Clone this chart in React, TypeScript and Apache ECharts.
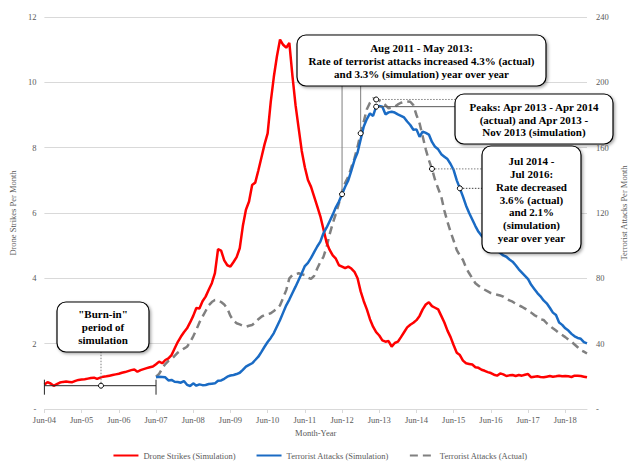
import React, { useEffect, useRef } from "react";
import * as echarts from "echarts";

const SERIF = '"Liberation Serif", "Times New Roman", serif';

const MONTH_NAMES = ["Jan", "Feb", "Mar", "Apr", "May", "Jun", "Jul", "Aug", "Sep", "Oct", "Nov", "Dec"];
const START_YEAR = 2004;
const START_MONTH = 5; // June
const N_MONTHS = 176; // Jun-04 .. Jan-19
const SIM_START = 36; // Jun-07

const categories: string[] = Array.from({ length: N_MONTHS }, (_, i) => {
  const m = (START_MONTH + i) % 12;
  const y = START_YEAR + Math.floor((START_MONTH + i) / 12);
  return `${MONTH_NAMES[m]}-${String(y % 100).padStart(2, "0")}`;
});

const leftTicks = [0, 2, 4, 6, 8, 10, 12];
const rightTicks = [0, 40, 80, 120, 160, 200, 240];

// Drone strikes (simulation), monthly from Jun-04
const droneStrikesSim = [
  0.75, 0.82, 0.78, 0.71, 0.76, 0.81, 0.83, 0.84, 0.83, 0.82, 0.86, 0.89,
  0.90, 0.91, 0.93, 0.95, 0.96, 0.92, 0.96, 0.99, 1.00, 1.02, 1.04, 1.06,
  1.08, 1.11, 1.13, 1.16, 1.19, 1.21, 1.14, 1.19, 1.22, 1.25, 1.28, 1.30,
  1.37, 1.45, 1.40, 1.50, 1.55, 1.65, 1.85, 2.05, 2.21, 2.35, 2.47, 2.65,
  2.85, 3.09, 3.08, 3.30, 3.44, 3.65, 3.85, 4.16, 4.89, 4.85, 4.55, 4.40,
  4.36, 4.50, 4.65, 4.92, 5.60, 6.10, 6.35, 6.86, 6.93, 7.30, 7.70, 8.10,
  8.44, 9.40, 10.17, 10.80, 11.31, 11.15, 11.06, 11.21, 10.20, 9.30, 8.60, 7.90,
  7.40, 7.01, 6.80, 6.50, 6.20, 5.90, 5.50, 5.10, 4.87, 4.70, 4.60, 4.40,
  4.36, 4.31, 4.36, 4.30, 4.20, 4.00, 3.60, 3.30, 3.05, 2.75, 2.52, 2.35,
  2.25, 2.10, 2.06, 2.08, 1.91, 2.02, 2.06, 2.20, 2.35, 2.50, 2.58, 2.64,
  2.72, 2.85, 3.05, 3.20, 3.27, 3.15, 3.10, 3.05, 2.85, 2.65, 2.40, 2.20,
  1.95, 1.72, 1.65, 1.48, 1.40, 1.38, 1.36, 1.28, 1.26, 1.20, 1.17, 1.13,
  1.10, 1.05, 1.02, 1.09, 1.06, 1.01, 1.03, 1.04, 1.01, 1.04, 1.02, 1.05,
  1.07, 0.97, 0.99, 1.00, 0.98, 0.97, 0.99, 1.01, 0.99, 1.00, 1.02, 1.00,
  1.01, 1.00, 0.98, 1.02, 1.02, 1.01, 0.99, 0.97,
];

// Terrorist attacks (simulation), monthly from Jun-07
const attacksSim = [
  19.5, 19.8, 19.6, 19.4, 17.5, 17.8, 16.7, 16.5, 16.1, 17.1, 14.8, 14.1,
  15.7, 14.3, 15.1, 14.6, 14.7, 15.3, 15.5, 15.7, 17.3, 17.5, 18.5, 19.8,
  20.5, 20.8, 21.4, 22.2, 24.0, 25.9, 27.0, 28.0, 30.0, 32.0, 35.0, 38.1,
  41.0, 43.5, 46.5, 50.5, 54.5, 59.0, 63.5, 67.0, 71.0, 74.9, 79.0, 83.1,
  87.5, 89.5, 92.5, 96.0, 99.5, 102.5, 107.6, 111.0, 115.0, 119.0, 123.5, 127.0,
  131.5, 136.1, 140.0, 146.0, 152.4, 157.0, 165.0, 173.0, 177.5, 181.0, 179.4, 185.1,
  185.5, 185.0, 180.4, 181.6, 182.0, 181.5, 180.4, 179.5, 178.5, 176.0, 173.9, 171.0,
  171.2, 166.7, 169.8, 169.0, 168.0, 163.5, 160.5, 159.0, 156.0, 154.5, 153.0, 150.0,
  146.3, 140.0, 135.1, 130.0, 124.5, 120.0, 116.0, 112.0, 108.5, 106.0, 104.0, 102.0,
  100.0, 98.0, 97.0, 95.5, 94.0, 93.2, 91.5, 90.2, 88.0, 85.5, 83.5, 81.5,
  79.5, 76.0, 73.5, 71.0, 69.0, 66.5, 64.7, 62.0, 59.0, 57.5, 53.0, 51.5,
  49.4, 48.0, 46.0, 44.5, 43.5, 43.0, 41.0, 40.2,
];

// Terrorist attacks (actual), monthly from Jun-07
const attacksActual = [
  19.8, 21.5, 24.9, 27.5, 29.5, 30.5, 32.5, 34.5, 35.8, 37.0, 38.1, 41.0,
  44.5, 48.5, 53.0, 56.5, 60.0, 63.5, 65.5, 66.7, 66.5, 65.5, 64.0, 61.5,
  57.0, 54.0, 52.5, 51.8, 51.0, 50.4, 51.0, 51.4, 53.0, 55.0, 56.5, 57.5,
  58.0, 58.6, 60.0, 61.5, 63.5, 68.0, 72.8, 80.0, 82.0, 82.5, 83.1, 82.5,
  82.0, 80.5, 79.6, 81.5, 86.0, 90.0, 93.2, 99.0, 107.0, 113.7, 119.5, 126.0,
  133.0, 138.5, 142.2, 148.0, 153.5, 160.6, 168.8, 176.0, 183.5, 187.5, 190.2, 189.5,
  188.8, 187.7, 186.0, 184.1, 184.5, 185.1, 186.5, 187.5, 188.1, 188.2, 188.1, 186.0,
  180.0, 174.9, 167.0, 159.0, 152.4, 147.0, 140.2, 135.0, 130.0, 121.5, 114.5, 108.5,
  103.0, 97.3, 94.0, 91.2, 86.5, 83.1, 80.0, 77.0, 75.5, 74.0, 73.0, 72.0,
  71.0, 70.5, 70.0, 69.5, 68.8, 67.5, 66.5, 65.7, 64.5, 63.5, 62.6, 61.5,
  60.0, 59.0, 57.5, 56.5, 55.0, 54.5, 52.5, 51.0, 49.4, 48.0, 46.5, 45.3,
  44.0, 42.5, 41.2, 39.5, 37.8, 36.0, 35.1, 34.0,
];

const seriesNames = [
  "Drone Strikes (Simulation)",
  "Terrorist Attacks (Simulation)",
  "Terrorist Attacks (Actual)",
];

const box1Text = "Aug 2011 - May 2013:\nRate of terrorist attacks increased 4.3% (actual)\nand 3.3% (simulation) year over year";
const box2Text = "Peaks: Apr 2013 - Apr 2014\n(actual) and Apr 2013 -\nNov 2013 (simulation)";
const box3Text = "Jul 2014 -\nJul 2016:\nRate decreased\n3.6% (actual)\nand 2.1%\n(simulation)\nyear over year";
const box4Text = "\"Burn-in\"\nperiod of\nsimulation";

const pad = (arr: number[]) => [...Array(SIM_START).fill(null), ...arr];

export default function App() {
  const ref = useRef<HTMLDivElement>(null);

  useEffect(() => {
    if (!ref.current) return;
    const chart = echarts.init(ref.current, null, { renderer: "svg" });
    const axisText = { color: "#595959", fontFamily: SERIF, fontSize: 8.5 };
    const isJune = (i: number) => i % 12 === 0;
    const option: any = {
      animation: false,
      backgroundColor: "#ffffff",
      grid: { left: 44, right: 53, top: 17, bottom: 58 },
      legend: {
        data: seriesNames,
        top: 446,
        left: "center",
        itemWidth: 25,
        itemHeight: 8,
        itemGap: 20,
        itemStyle: { opacity: 0 },
        textStyle: { ...axisText },
      },
      xAxis: {
        type: "category",
        data: categories,
        boundaryGap: false,
        name: "Month-Year",
        nameLocation: "middle",
        nameGap: 15,
        nameTextStyle: axisText,
        axisLine: { lineStyle: { color: "#d9d9d9" } },
        axisTick: { show: true, interval: (i: number) => isJune(i), length: 4, lineStyle: { color: "#d9d9d9" } },
        axisLabel: { ...axisText, interval: (i: number) => isJune(i), margin: 6 },
        splitLine: { show: false },
      },
      yAxis: [
        {
          type: "value",
          min: leftTicks[0],
          max: leftTicks[leftTicks.length - 1],
          interval: leftTicks[1] - leftTicks[0],
          name: "Drone Strikes Per Month",
          nameLocation: "middle",
          nameGap: 20,
          nameTextStyle: axisText,
          axisLine: { show: false },
          axisTick: { show: false },
          axisLabel: { ...axisText, margin: 8, formatter: (v: number) => (v === 0 ? "-" : String(v)) },
          splitLine: { lineStyle: { color: "#d9d9d9", width: 1 } },
        },
        {
          type: "value",
          min: rightTicks[0],
          max: rightTicks[rightTicks.length - 1],
          interval: rightTicks[1] - rightTicks[0],
          name: "Terrorist Attacks Per Month",
          nameLocation: "middle",
          nameGap: 22,
          nameTextStyle: axisText,
          axisLine: { show: false },
          axisTick: { show: false },
          axisLabel: { ...axisText, margin: 9, formatter: (v: number) => (v === 0 ? "-" : String(v)) },
          splitLine: { show: false },
        },
      ],
      series: [
        {
          name: seriesNames[0],
          type: "line",
          yAxisIndex: 0,
          data: droneStrikesSim,
          symbol: "none",
          lineStyle: { color: "#ff0000", width: 2.5 },
          itemStyle: { color: "#ff0000" },
          z: 3,
        },
        {
          name: seriesNames[1],
          type: "line",
          yAxisIndex: 1,
          data: pad(attacksSim),
          symbol: "none",
          lineStyle: { color: "#1a6bc4", width: 2.5 },
          itemStyle: { color: "#1a6bc4" },
          z: 4,
        },
        {
          name: seriesNames[2],
          type: "line",
          yAxisIndex: 1,
          data: pad(attacksActual),
          symbol: "none",
          lineStyle: { color: "#808080", width: 2.5, type: [8, 5] },
          itemStyle: { color: "#808080" },
          z: 2,
        },
      ],
    };
    chart.setOption(option);

    const px = (i: number, v: number, yi: number) =>
      chart.convertToPixel({ xAxisIndex: 0, yAxisIndex: yi } as any, [i, v]) as number[];
    const sim = (i: number) => px(i, attacksSim[i - SIM_START], 1);
    const act = (i: number) => px(i, attacksActual[i - SIM_START], 1);

    const rect = (x: number, y: number, w: number, h: number) => ({
      type: "rect",
      shape: { x, y, width: w, height: h, r: 9 },
      style: {
        fill: "#ffffff",
        stroke: "#000000",
        lineWidth: 1.2,
        shadowBlur: 3,
        shadowOffsetX: 1.5,
        shadowOffsetY: 1.5,
        shadowColor: "rgba(0,0,0,0.35)",
      },
      z: 100,
    });
    const label = (x: number, y: number, text: string, lh: number) => ({
      type: "text",
      x,
      y,
      style: {
        text,
        fill: "#000000",
        fontFamily: SERIF,
        fontWeight: "bold",
        fontSize: 11,
        lineHeight: lh,
        align: "center",
        verticalAlign: "middle",
      },
      z: 101,
    });
    const line = (x1: number, y1: number, x2: number, y2: number, dotted: boolean, color = "#595959") => ({
      type: "line",
      shape: { x1, y1, x2, y2 },
      style: { stroke: color, lineWidth: 1, lineDash: dotted ? [1.5, 1.5] : null },
      z: 99,
    });
    const dot = (p: number[]) => ({
      type: "circle",
      shape: { cx: p[0], cy: p[1], r: 2.5 },
      style: { fill: "#ffffff", stroke: "#000000", lineWidth: 1 },
      z: 102,
    });

    const a1 = sim(96);
    const a2 = act(102);
    const a3 = act(107);
    const a4 = sim(107);
    const a5 = act(125);
    const a6 = sim(134);
    const b0 = px(0, 0, 0);
    const b1 = px(SIM_START, 0, 0);
    const bracketY = 385.7;
    const bracketMid = 101;

    const graphics: any[] = [
      line(a1[0], 86, a1[0], a1[1], false, "#7f7f7f"),
      line(a2[0], 86, a2[0], a2[1], false, "#7f7f7f"),
      line(a3[0], a3[1], 455, a3[1], true, "#7f7f7f"),
      line(a4[0], a4[1], 455, a4[1], false, "#595959"),
      line(a5[0], a5[1], 482, a5[1], true, "#7f7f7f"),
      line(a6[0], a6[1], 482, a6[1], true, "#404040"),
      line(b0[0], bracketY, b1[0], bracketY, false, "#262626"),
      line(b0[0], bracketY - 6, b0[0], bracketY + 9, false, "#262626"),
      line(b1[0], bracketY - 6, b1[0], bracketY + 9, false, "#262626"),
      line(bracketMid, 351.7, bracketMid, bracketY, true, "#7f7f7f"),
      rect(297, 35, 249, 51),
      label(421.5, 61, box1Text, 13),
      rect(455, 94, 158, 50),
      label(534, 119.5, box2Text, 12.7),
      rect(482, 146, 99, 107),
      label(531.5, 199.5, box3Text, 12.7),
      rect(57, 302, 92, 50),
      label(103, 327, box4Text, 13),
      dot(a1),
      dot(a2),
      dot(a3),
      dot(a4),
      dot(a5),
      dot(a6),
      dot([bracketMid, bracketY]),
    ];
    chart.setOption({ graphic: graphics });

    return () => chart.dispose();
  }, []);

  return (
    <div
      ref={ref}
      style={{ position: "fixed", left: 0, top: 0, width: 640, height: 467, background: "#fff" }}
    />
  );
}
